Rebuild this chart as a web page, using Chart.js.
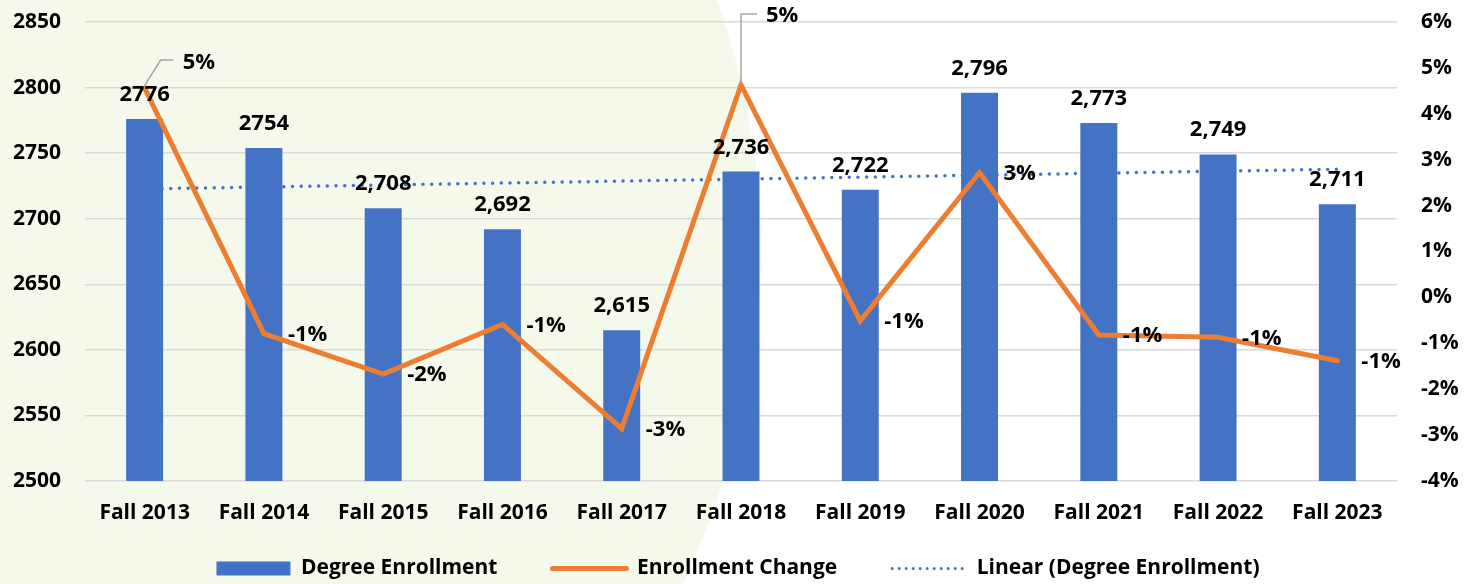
<!DOCTYPE html>
<html>
<head>
<meta charset="utf-8">
<script src="https://cdn.jsdelivr.net/npm/chart.js@4.4.0/dist/chart.umd.min.js"></script>
<style>
    html, body { margin: 0; padding: 0; background: #fff; }
    #wrap { width: 1476px; height: 584px; position: relative; }
</style>
</head>
<body>
<div id="wrap"><canvas id="enrollChart"></canvas></div>
<script>
// Data
const terms = ['Fall 2013', 'Fall 2014', 'Fall 2015', 'Fall 2016', 'Fall 2017', 'Fall 2018',
               'Fall 2019', 'Fall 2020', 'Fall 2021', 'Fall 2022', 'Fall 2023'];
const enrollment = [2776, 2754, 2708, 2692, 2615, 2736, 2722, 2796, 2773, 2749, 2711];
const enrollmentLabels = ['2776', '2754', '2,708', '2,692', '2,615', '2,736', '2,722', '2,796', '2,773', '2,749', '2,711'];
const changePct = [4.56, -0.79, -1.67, -0.59, -2.86, 4.63, -0.51, 2.72, -0.82, -0.87, -1.38];
const changeLabels = ['5%', '-1%', '-2%', '-1%', '-3%', '5%', '-1%', '3%', '-1%', '-1%', '-1%'];
// linear trend: only the two ends are read, the line joins them
const trendEnds = [2722.7, null, null, null, null, null, null, null, null, null, 2737.7];
const leftTicks = { min: 2500, max: 2850, step: 50 };
const rightTicks = { min: -4, max: 6, step: 1 };

const BLUE = '#4472C4';
const ORANGE = '#ED7D31';
const FONT = "'Open Sans', sans-serif";

// callouts with leader lines (offsets from the point, px)
const callouts = {
    0: { text: [38, -25], path: [[-1, -1], [16, -28], [29, -28]] },
    5: { text: [25, -69], path: [[0, -1], [0, -71], [16, -71]] }
};

const backgroundShape = {
    id: 'backgroundShape',
    beforeDraw(chart) {
        const ctx = chart.ctx;
        ctx.save();
        ctx.fillStyle = '#ffffff';
        ctx.fillRect(0, 0, chart.width, chart.height);
        ctx.fillStyle = '#f5f9eb';
        ctx.beginPath();
        ctx.moveTo(0, 0);
        ctx.lineTo(717, 0);
        ctx.quadraticCurveTo(820, 288, 683, chart.height);
        ctx.lineTo(0, chart.height);
        ctx.closePath();
        ctx.fill();
        ctx.restore();
    }
};

// legend sits a bit higher than its layout box (wide item gaps would make it too tall)
const legendNudge = {
    id: 'legendNudge',
    afterLayout(chart) {
        const lg = chart.legend;
        if (!lg) return;
        lg.top -= 26;
        lg.bottom -= 26;
    }
};

const valueLabels = {
    id: 'valueLabels',
    afterDatasetsDraw(chart) {
        const ctx = chart.ctx;
        ctx.save();
        ctx.fillStyle = '#000';
        ctx.font = "bold 22px " + FONT;

        // bar labels
        const bars = chart.getDatasetMeta(0).data;
        ctx.textAlign = 'center';
        ctx.textBaseline = 'alphabetic';
        bars.forEach((bar, i) => {
            ctx.fillText(enrollmentLabels[i], bar.x, bar.y - 18);
        });

        // change labels
        const pts = chart.getDatasetMeta(1).data;
        ctx.textAlign = 'left';
        ctx.textBaseline = 'middle';
        pts.forEach((pt, i) => {
            const c = callouts[i];
            if (c) {
                ctx.save();
                ctx.strokeStyle = '#a6a6a6';
                ctx.lineWidth = 1.5;
                ctx.beginPath();
                c.path.forEach((p, k) => {
                    if (k === 0) ctx.moveTo(pt.x + p[0], pt.y + p[1]);
                    else ctx.lineTo(pt.x + p[0], pt.y + p[1]);
                });
                ctx.stroke();
                ctx.restore();
                ctx.fillText(changeLabels[i], pt.x + c.text[0], pt.y + c.text[1]);
            } else {
                ctx.fillText(changeLabels[i], pt.x + 24, pt.y + 1);
            }
        });
        ctx.restore();
    }
};

const ctx = document.getElementById('enrollChart').getContext('2d');
new Chart(ctx, {
    data: {
        labels: terms,
        datasets: [{
            type: 'bar',
            label: 'Degree Enrollment',
            data: enrollment,
            backgroundColor: BLUE,
            yAxisID: 'y',
            categoryPercentage: 1,
            barPercentage: 0.31,
            order: 1
        }, {
            type: 'line',
            label: 'Enrollment Change',
            data: changePct,
            borderColor: ORANGE,
            borderWidth: 5,
            borderCapStyle: 'round',
            pointRadius: 0,
            tension: 0,
            yAxisID: 'y1',
            order: 0
        }, {
            type: 'line',
            label: 'Linear (Degree Enrollment)',
            data: trendEnds,
            borderColor: BLUE,
            borderWidth: 3.5,
            borderDash: [0, 8.7],
            borderCapStyle: 'round',
            pointRadius: 0,
            spanGaps: true,
            yAxisID: 'y',
            order: 2
        }]
    },
    options: {
        responsive: true,
        maintainAspectRatio: false,
        animation: false,
        layout: { padding: { top: 22, left: 0, right: 0, bottom: -31 } },
        plugins: {
            legend: {
                position: 'bottom',
                labels: {
                    usePointStyle: true,
                    pointStyleWidth: 74,
                    boxHeight: 14,
                    padding: 55,
                    color: '#000',
                    font: { family: FONT, size: 21, weight: 'bold' },
                    generateLabels: () => [
                        { text: 'Degree Enrollment', datasetIndex: 0, pointStyle: 'rect',
                          fillStyle: BLUE, strokeStyle: BLUE, lineWidth: 0, fontColor: '#000' },
                        { text: 'Enrollment Change', datasetIndex: 1, pointStyle: 'line',
                          fillStyle: ORANGE, strokeStyle: ORANGE, lineWidth: 5, lineCap: 'round', fontColor: '#000' },
                        { text: 'Linear (Degree Enrollment)', datasetIndex: 2, pointStyle: 'line',
                          fillStyle: BLUE, strokeStyle: BLUE, lineWidth: 3, lineDash: [0, 7], lineCap: 'round', fontColor: '#000' }
                    ]
                },
                onClick: null
            },
            tooltip: { enabled: false }
        },
        scales: {
            x: {
                grid: { display: false, drawTicks: false },
                border: { display: false },
                ticks: {
                    color: '#000',
                    padding: 19,
                    maxRotation: 0,
                    font: { family: FONT, size: 21, weight: 'bold' }
                },
                afterFit(scale) {
                    scale.height = 48;
                    scale.paddingLeft = 0;
                    scale.paddingRight = 0;
                }
            },
            y: {
                position: 'left',
                min: leftTicks.min,
                max: leftTicks.max,
                grid: { color: '#d9d9d9', lineWidth: 1.5, drawTicks: false },
                border: { display: false },
                ticks: {
                    stepSize: leftTicks.step,
                    color: '#000',
                    padding: 24,
                    font: { family: FONT, size: 21, weight: 'bold' },
                    callback: v => String(v)
                },
                afterFit(scale) {
                    scale.width = 85;
                    scale.paddingTop = 0;
                    scale.paddingBottom = 0;
                }
            },
            y1: {
                position: 'right',
                min: rightTicks.min,
                max: rightTicks.max,
                grid: { display: false, drawTicks: false },
                border: { display: false },
                ticks: {
                    stepSize: rightTicks.step,
                    color: '#000',
                    padding: 24,
                    font: { family: FONT, size: 21, weight: 'bold' },
                    callback: v => v + '%'
                },
                afterFit(scale) {
                    scale.width = 79;
                    scale.paddingTop = 0;
                    scale.paddingBottom = 0;
                }
            }
        }
    },
    plugins: [backgroundShape, legendNudge, valueLabels]
});
</script>
</body>
</html>
